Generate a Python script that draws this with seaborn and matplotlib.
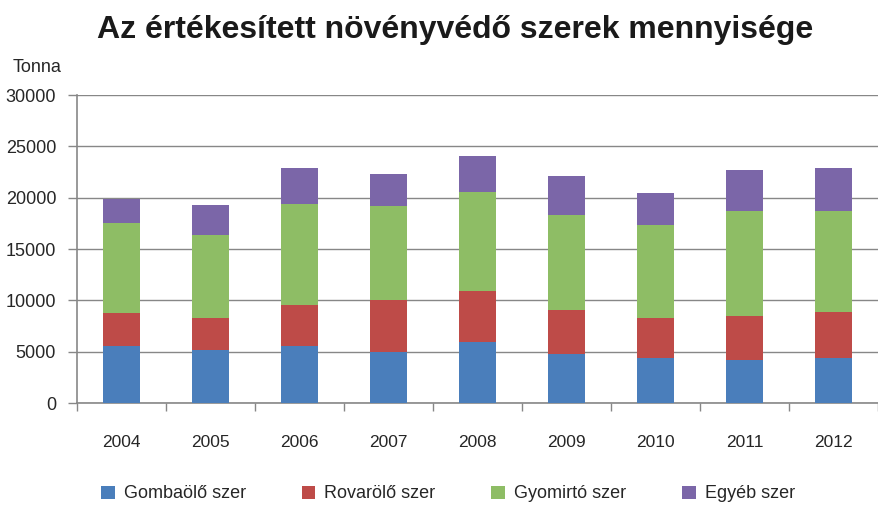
import matplotlib
matplotlib.use("Agg")
import matplotlib.pyplot as plt
from matplotlib.patches import Patch
import numpy as np
import pandas as pd
import seaborn as sns

years = ["2004", "2005", "2006", "2007", "2008", "2009", "2010", "2011", "2012"]
gombaolo = [5530, 5140, 5600, 5010, 5920, 4810, 4420, 4230, 4420]
rovarolo = [3190, 3120, 3940, 5070, 4950, 4290, 3900, 4290, 4490]
gyomirto = [8780, 8070, 9860, 9110, 9660, 9180, 8980, 10150, 9760]
egyeb = [2380, 2930, 3480, 3090, 3510, 3800, 3120, 4000, 4200]

series_names = ["Gombaölő szer", "Rovarölő szer", "Gyomirtó szer", "Egyéb szer"]
colors = ["#4A7EBB", "#BE4B48", "#8EBD65", "#7B66A8"]

sns.set_theme(style="white")
plt.rcParams["font.family"] = ["Liberation Sans", "DejaVu Sans"]

df = pd.DataFrame({"year": years, series_names[0]: gombaolo, series_names[1]: rovarolo,
                   series_names[2]: gyomirto, series_names[3]: egyeb})
cum = df[series_names].cumsum(axis=1)

fig = plt.figure(figsize=(8.79, 5.05), dpi=100)
ax = fig.add_axes([77 / 879, 1 - 403 / 505, 801 / 879, 308 / 505])

# draw cumulative totals from the top down so each layer shows its own segment
for name, color in reversed(list(zip(series_names, colors))):
    sns.barplot(x=df["year"], y=cum[name], color=color, width=0.405, ax=ax,
                saturation=1, linewidth=0, edgecolor="none", zorder=3)

ax.set_ylim(0, 30000)
ax.set_xlim(-0.5, len(years) - 0.5)
ax.set_yticks(np.arange(0, 30001, 5000))
ax.yaxis.grid(True, color="#878787", linewidth=1.0, zorder=0)
ax.set_axisbelow(True)
ax.set_xlabel("")
ax.set_ylabel("")

ax.set_xticks(np.arange(-0.5, len(years), 1.0))
ax.set_xticklabels([])
ax.set_xticks(np.arange(len(years)), minor=True)
ax.set_xticklabels(years, minor=True, fontsize=12.5)
ax.tick_params(axis="x", which="major", direction="out", length=6, color="#878787", width=1)
ax.tick_params(axis="x", which="minor", length=0, pad=23)
ax.tick_params(axis="y", direction="out", length=6.5, color="#878787", width=1, labelsize=13, pad=8.5)
ax.tick_params(axis="both", bottom=True, left=True)

for side in ["top", "right"]:
    ax.spines[side].set_visible(False)
for side in ["left", "bottom"]:
    ax.spines[side].set_color("#878787")
    ax.spines[side].set_linewidth(1.2)

fig.text(455 / 879, 1 - 30 / 505, "Az értékesített növényvédő szerek mennyisége",
         ha="center", va="center", fontsize=23, fontweight="bold", color="#1a1a1a")
fig.text(37.5 / 879, 1 - 68 / 505, "Tonna", ha="center", va="center", fontsize=13)

handles = [Patch(facecolor=c, edgecolor="none", label=n) for n, c in zip(series_names, colors)]
fig.legend(handles=handles, loc="center", bbox_to_anchor=(448 / 879, 1 - 494 / 505), ncol=4,
           frameon=False, fontsize=13, handlelength=0.75, handleheight=0.75,
           handletextpad=0.5, columnspacing=3.1, borderpad=0)

fig.savefig("out.png", dpi=100)
